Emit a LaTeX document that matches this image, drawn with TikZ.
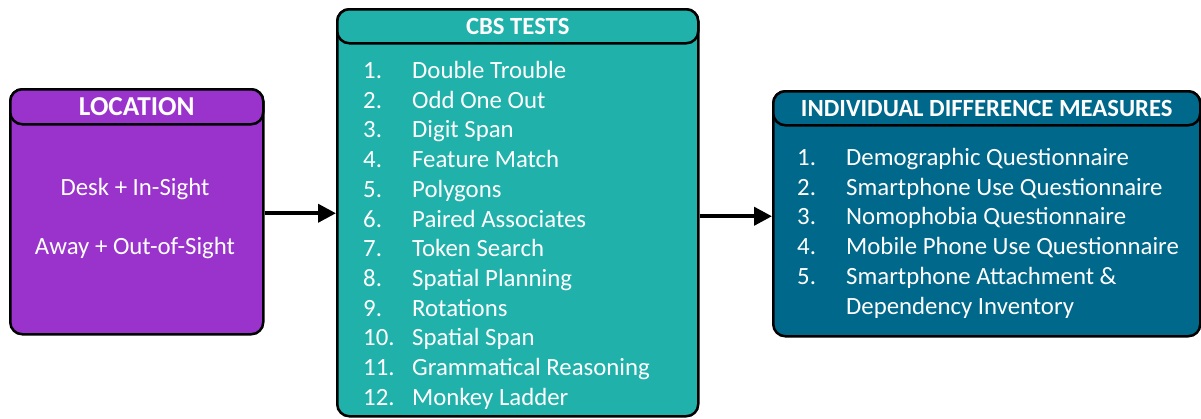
\documentclass[tikz,border=0pt]{standalone}
\usepackage{fontspec}
\setmainfont{Carlito}
\usetikzlibrary{arrows.meta}
\definecolor{locpurple}{RGB}{153,51,204}
\definecolor{cbsteal}{RGB}{32,178,170}
\definecolor{idmblue}{RGB}{0,104,138}
\tikzset{
  box/.style={draw=black, line width=2.5pt, rounded corners=12pt, rectangle, inner sep=0pt},
  hdr/.style={draw=black, line width=2.5pt, rounded corners=12pt, rectangle, inner sep=0pt, text=white, font=\bfseries\fontsize{24.7}{25}\selectfont},
  item/.style={anchor=base west, text=white, inner sep=0pt, font=\fontsize{24.8}{26}\selectfont},
  arr/.style={line width=4pt, -{Triangle[length=18pt,width=18pt]}}
}
\begin{document}
\begin{tikzpicture}[x=1pt,y=-1pt]
\useasboundingbox (0,0) rectangle (1201,418);
% LOCATION
\node[box, fill=locpurple, minimum width=253, minimum height=245, anchor=north west] (loc) at (9,88) {};
\node[hdr, fill=locpurple, minimum width=253, minimum height=35, anchor=north west, font=\bfseries\fontsize{27.3}{28}\selectfont] (lochdr) at (9,88) {LOCATION};
\node[item, anchor=base] (l1) at (135,195.5) {Desk + In-Sight};
\node[item, anchor=base] (l2) at (135,254.5) {Away + Out-of-Sight};
% CBS
\node[box, fill=cbsteal, minimum width=361, minimum height=407, anchor=north west] (cbs) at (336,8) {};
\node[hdr, fill=cbsteal, minimum width=361, minimum height=34, anchor=north west] (cbshdr) at (336,8) {CBS TESTS};
\foreach \n/\t [count=\i] in {1./Double Trouble,2./Odd One Out,3./Digit Span,4./Feature Match,5./Polygons,6./Paired Associates,7./Token Search,8./Spatial Planning,9./Rotations,10./Spatial Span,11./Grammatical Reasoning,12./Monkey Ladder}{
  \node[item] (cn\i) at (363,{78.5+29.7*(\i-1)}) {\n};
  \node[item] (ct\i) at (412,{78.5+29.7*(\i-1)}) {\t};
}
% IDM
\node[box, fill=idmblue, minimum width=427, minimum height=245, anchor=north west] (idm) at (772,90) {};
\node[hdr, fill=idmblue, minimum width=427, minimum height=34, anchor=north west] (idmhdr) at (772,90) {INDIVIDUAL DIFFERENCE MEASURES};
\foreach \n/\t [count=\i] in {1./Demographic Questionnaire,2./Smartphone Use Questionnaire,3./Nomophobia Questionnaire,4./Mobile Phone Use Questionnaire,5./Smartphone Attachment \&}{
  \node[item] (in\i) at (797,{165.5+29.7*(\i-1)}) {\n};
  \node[item] (it\i) at (846,{165.5+29.7*(\i-1)}) {\t};
}
\node[item] (it6) at (846,314) {Dependency Inventory};
% arrows
\draw[arr] ([yshift=-1.5pt]loc.east) -- ([yshift=-1.5pt]loc.east -| cbs.west);
\draw[arr] ([yshift=-2.5pt]idm.west -| cbs.east) -- ([yshift=-2.5pt]idm.west);
\end{tikzpicture}
\end{document}
